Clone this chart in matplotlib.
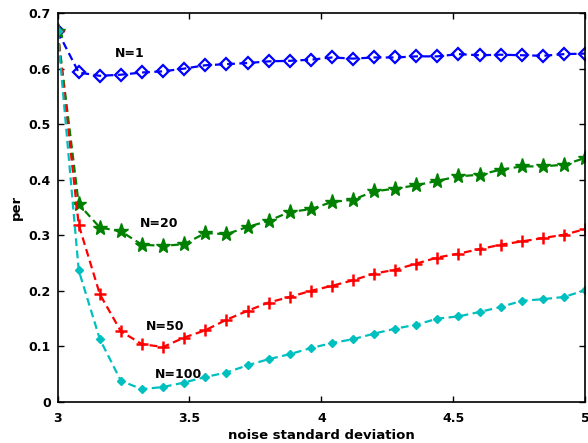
import numpy as np
import matplotlib
matplotlib.use('Agg')
import matplotlib.pyplot as plt

plt.rcParams['font.family'] = ['DejaVu Sans']
plt.rcParams['font.weight'] = 'bold'

# noise standard deviation, 26 steps from 3 to 5
sigma = [3.00, 3.08, 3.16, 3.24, 3.32, 3.40, 3.48, 3.56, 3.64, 3.72, 3.80, 3.88, 3.96,
         4.04, 4.12, 4.20, 4.28, 4.36, 4.44, 4.52, 4.60, 4.68, 4.76, 4.84, 4.92, 5.00]

per_n1 = [0.667, 0.593, 0.587, 0.589, 0.593, 0.595, 0.600, 0.606, 0.608, 0.610, 0.613, 0.614, 0.616,
          0.620, 0.618, 0.620, 0.620, 0.622, 0.622, 0.626, 0.624, 0.625, 0.624, 0.623, 0.626, 0.627]
per_n20 = [0.667, 0.356, 0.314, 0.307, 0.283, 0.281, 0.284, 0.304, 0.302, 0.315, 0.326, 0.342, 0.347,
           0.360, 0.364, 0.379, 0.384, 0.390, 0.398, 0.406, 0.409, 0.418, 0.424, 0.424, 0.427, 0.439]
per_n50 = [0.667, 0.319, 0.194, 0.127, 0.104, 0.099, 0.116, 0.129, 0.148, 0.164, 0.179, 0.189, 0.200,
           0.209, 0.219, 0.231, 0.238, 0.249, 0.260, 0.267, 0.275, 0.283, 0.289, 0.295, 0.301, 0.311]
per_n100 = [0.667, 0.237, 0.113, 0.038, 0.023, 0.027, 0.035, 0.045, 0.053, 0.066, 0.077, 0.086, 0.097,
            0.106, 0.113, 0.123, 0.132, 0.139, 0.150, 0.154, 0.162, 0.171, 0.182, 0.185, 0.189, 0.201]

labels = ['N=1', 'N=20', 'N=50', 'N=100']
label_xy = [(3.275, 0.627), (3.386, 0.321), (3.408, 0.135), (3.457, 0.050)]

fig = plt.figure(figsize=(5.88, 4.43), dpi=100)
ax = fig.add_axes([0.098, 0.0926, 0.897, 0.878])

dash = (0, (3.5, 2.0))
ax.plot(sigma, per_n1, color='blue', linestyle=dash, lw=1.6,
        marker='D', ms=6.5, mfc='none', mec='blue', mew=1.6)
ax.plot(sigma, per_n20, color=(0, 0.5, 0), linestyle=dash, lw=1.6,
        marker='*', ms=11, mfc=(0, 0.5, 0), mec=(0, 0.5, 0))
ax.plot(sigma, per_n50, color='red', linestyle=dash, lw=1.6,
        marker='+', ms=8, mew=1.8)
ax.plot(sigma, per_n100, color=(0, 0.75, 0.75), linestyle=dash, lw=1.6,
        marker='D', ms=4, mfc=(0, 0.75, 0.75), mec=(0, 0.75, 0.75))

for txt, (x, y) in zip(labels, label_xy):
    ax.text(x, y, txt, ha='center', va='center', fontsize=9, fontweight='bold')

ax.set_xlim(3, 5)
ax.set_ylim(0, 0.7)
ax.set_xticks([3, 3.5, 4, 4.5, 5])
ax.set_xticklabels(['3', '3.5', '4', '4.5', '5'])
ax.set_yticks(np.arange(0, 0.71, 0.1))
ax.set_yticklabels(['0', '0.1', '0.2', '0.3', '0.4', '0.5', '0.6', '0.7'])
ax.tick_params(direction='in', top=True, right=True, labelsize=9, length=4, width=1)
ax.tick_params(axis='x', pad=7)
ax.tick_params(axis='y', pad=5)
for s in ax.spines.values():
    s.set_linewidth(1.2)
ax.set_xlabel('noise standard deviation', fontsize=9.5, fontweight='bold', labelpad=3)
ax.set_ylabel('per', fontsize=9.5, fontweight='bold', labelpad=4)

fig.savefig('out.png', dpi=100)
